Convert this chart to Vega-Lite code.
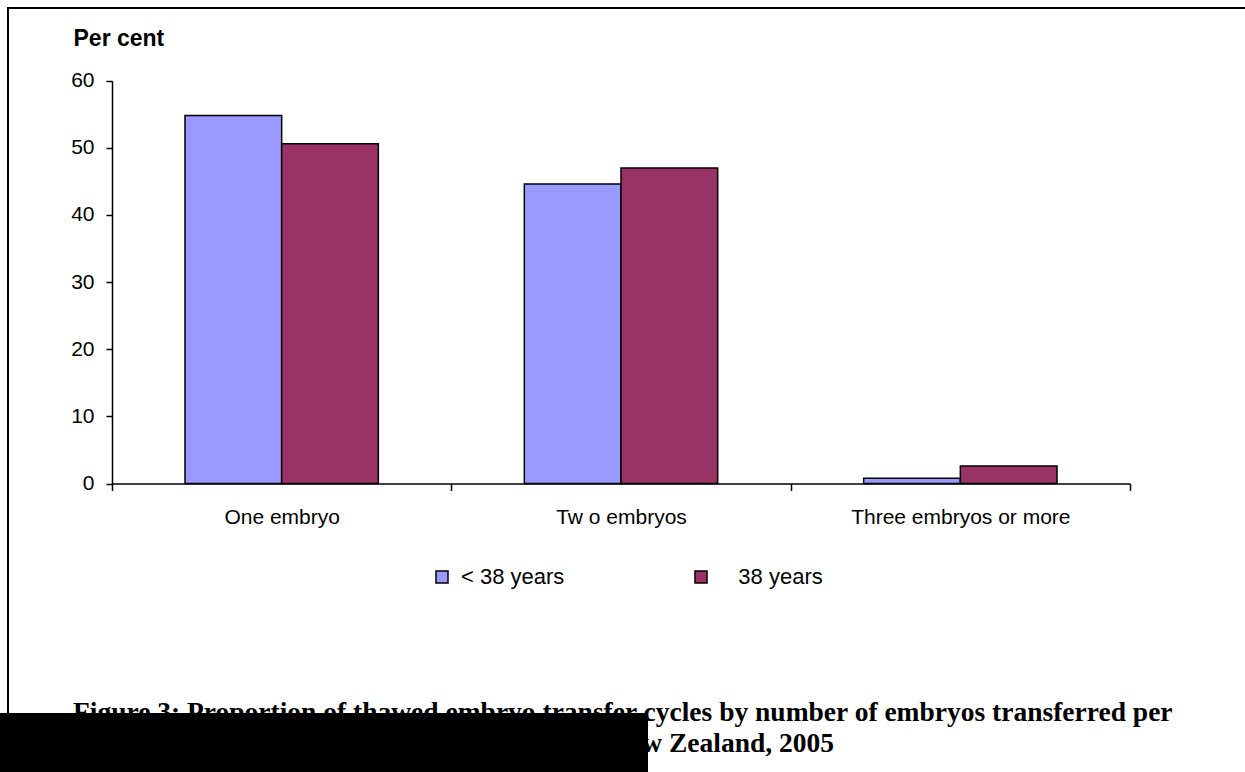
{
  "$schema": "https://vega.github.io/schema/vega-lite/v6.json",
  "width": 1257,
  "height": 784,
  "autosize": {"type": "none"},
  "padding": {"left": 8, "top": 8, "right": -20, "bottom": -20},
  "background": "white",
  "config": {
    "view": {"stroke": "black", "strokeWidth": 2},
    "axis": {"labelFont": "Liberation Sans", "labelColor": "black", "domainColor": "black", "tickColor": "black", "grid": false, "domainWidth": 1.5, "tickWidth": 1.5}
  },
  "data": {
    "values": [
      {"category": "One embryo", "age": "< 38 years", "value": 54.8},
      {"category": "One embryo", "age": "\u200b\u00a0\u00a0\u00a038 years", "value": 50.6},
      {"category": "Tw o embryos", "age": "< 38 years", "value": 44.6},
      {"category": "Tw o embryos", "age": "\u200b\u00a0\u00a0\u00a038 years", "value": 47.0},
      {"category": "Three embryos or more", "age": "< 38 years", "value": 0.8},
      {"category": "Three embryos or more", "age": "\u200b\u00a0\u00a0\u00a038 years", "value": 2.6}
    ]
  },
  "mark": {"type": "bar", "strokeWidth": 1.5},
  "encoding": {
    "x": {
      "field": "category", "type": "nominal",
      "sort": ["One embryo", "Tw o embryos", "Three embryos or more"],
      "scale": {"range": [104, 1122], "paddingInner": 0, "paddingOuter": 0},
      "axis": {"title": null, "offset": -308.5, "tickBand": "extent", "tickSize": 7, "labelPadding": 16, "labelFontSize": 21, "labelAngle": 0, "labelLimit": 400}
    },
    "xOffset": {
      "field": "age", "type": "nominal",
      "sort": ["< 38 years", "\u200b\u00a0\u00a0\u00a038 years"],
      "scale": {"paddingInner": 0, "paddingOuter": 0.755}
    },
    "y": {
      "field": "value", "type": "quantitative",
      "scale": {"domain": [0, 60], "range": [475.5, 72.7], "nice": false, "zero": true},
      "axis": {
        "title": "Per cent", "offset": -104, "values": [0, 10, 20, 30, 40, 50, 60],
        "tickSize": 6, "labelPadding": 12, "labelFontSize": 21,
        "titleAngle": 0, "titleX": -39, "titleY": 37, "titleAlign": "left", "titleBaseline": "alphabetic",
        "titleFont": "Liberation Sans", "titleFontSize": 23, "titleFontWeight": "bold", "titleColor": "black"
      }
    },
    "color": {
      "field": "age", "type": "nominal",
      "sort": ["< 38 years", "\u200b\u00a0\u00a0\u00a038 years"],
      "scale": {"domain": ["< 38 years", "\u200b\u00a0\u00a0\u00a038 years"], "range": ["#9999FF", "#993366"]},
      "legend": {
        "title": null, "orient": "none", "legendX": 423, "legendY": 558, "direction": "horizontal",
        "columns": 2, "columnPadding": 125, "symbolType": "square", "symbolSize": 144,
        "symbolStrokeColor": "black", "symbolStrokeWidth": 1.5, "symbolOpacity": 1,
        "labelFont": "Liberation Sans", "labelFontSize": 22, "labelColor": "black", "labelOffset": 8,
        "padding": 0, "labelLimit": 300
      }
    },
    "stroke": {
      "field": "value", "type": "quantitative",
      "scale": {"range": ["black", "black"]},
      "legend": {
        "title": null, "orient": "none", "legendX": -8, "legendY": 705, "direction": "horizontal",
        "gradientLength": 648, "gradientThickness": 62, "gradientStrokeWidth": 0,
        "labelOpacity": 0, "padding": 0, "zindex": 1
      }
    }
  },
  "title": {
    "text": [
      "Figure 3: Proportion of thawed embryo transfer cycles by number of embryos transferred per",
      "\u200b\u00a0\u00a0\u00a0\u00a0\u00a0\u00a0\u00a0\u00a0\u00a0\u00a0\u00a0\u00a0\u00a0\u00a0\u00a0\u00a0\u00a0\u00a0\u00a0\u00a0\u00a0\u00a0\u00a0\u00a0\u00a0\u00a0\u00a0\u00a0\u00a0\u00a0\u00a0\u00a0\u00a0\u00a0\u00a0\u00a0\u00a0\u00a0\u00a0\u00a0\u00a0\u00a0\u00a0\u00a0\u00a0\u00a0\u00a0\u00a0\u00a0\u00a0\u00a0\u00a0\u00a0\u00a0\u00a0\u00a0\u00a0\u00a0\u00a0\u00a0\u00a0\u00a0\u00a0\u00a0\u00a0\u00a0\u00a0\u00a0\u00a0\u00a0\u00a0\u00a0\u00a0\u00a0\u00a0\u00a0\u00a0\u00a0\u00a0\u00a0\u00a0\u00a0\u2009w Zealand, 2005"
    ],
    "orient": "top", "anchor": "start", "frame": "group", "offset": -771, "dx": 65,
    "baseline": "alphabetic", "font": "Liberation Serif", "fontSize": 27.5, "fontWeight": "bold",
    "color": "black", "lineHeight": 31
  }
}
